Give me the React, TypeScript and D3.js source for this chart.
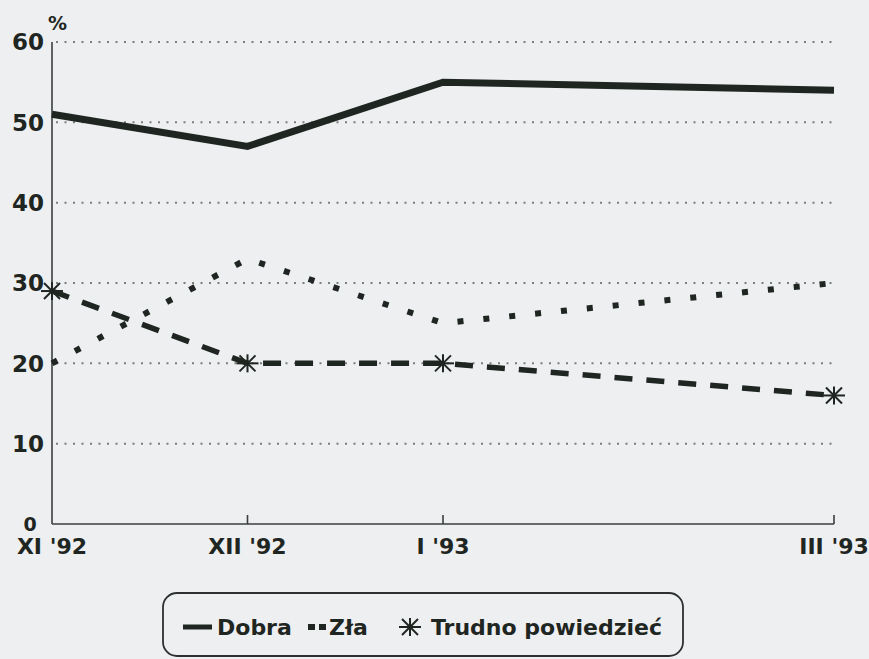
import React from "react";
import * as d3 from "d3";

const categories = ["XI '92", "XII '92", "I '93", "III '93"];
const monthIndex = [0, 1, 2, 4];
const dobra = [51, 47, 55, 54];
const zla = [20, 33, 25, 30];
const trudno = [29, 20, 20, 16];
const yTicks = [10, 20, 30, 40, 50, 60];
const legendLabels = ["Dobra", "Zła", "Trudno powiedzieć"];

const W = 869;
const H = 659;
const INK = "#1f2622";
const FONT = "'DejaVu Sans', sans-serif";

export default function App() {
  const x = d3.scaleLinear().domain([0, 4]).range([52, 834]);
  const y = d3.scaleLinear().domain([0, 60]).range([524, 42]);
  const line = d3
    .line<number>()
    .x((_, i) => x(monthIndex[i]))
    .y((d) => y(d));

  const asterisk = (cx: number, cy: number, k: string) => (
    <g key={k} stroke={INK} strokeWidth={2}>
      <line x1={cx - 11} y1={cy} x2={cx + 11} y2={cy} />
      <line x1={cx} y1={cy - 9} x2={cx} y2={cy + 9} />
      <line x1={cx - 8} y1={cy - 8} x2={cx + 8} y2={cy + 8} />
      <line x1={cx - 8} y1={cy + 8} x2={cx + 8} y2={cy - 8} />
    </g>
  );

  return (
    <svg
      width={W}
      height={H}
      style={{ position: "absolute", left: 0, top: 0, background: "#edeff0" }}
      fontFamily={FONT}
    >
      <rect x={0} y={0} width={W} height={H} fill="#edeff0" />
      {/* gridlines */}
      {yTicks.map((t) => (
        <line
          key={"g" + t}
          x1={x(0) + 4}
          x2={x(4)}
          y1={y(t)}
          y2={y(t)}
          stroke="#7a7f7c"
          strokeWidth={2}
          strokeDasharray="2 6.5"
        />
      ))}
      {/* axes */}
      <line x1={x(0)} x2={x(0)} y1={y(60)} y2={y(0)} stroke="#3a3f3c" strokeWidth={1.6} />
      <line x1={x(0)} x2={x(4)} y1={y(0)} y2={y(0)} stroke="#3a3f3c" strokeWidth={1.6} />
      {monthIndex.slice(1).map((m) => (
        <line key={"t" + m} x1={x(m)} x2={x(m)} y1={y(0)} y2={y(0) - 9} stroke="#3a3f3c" strokeWidth={1.6} />
      ))}
      {/* y labels */}
      {yTicks.map((t) => (
        <text
          key={"yl" + t}
          x={44}
          y={y(t)}
          dy="0.36em"
          textAnchor="end"
          fontSize={23}
          fontWeight="bold"
          fill={INK}
        >
          {t}
        </text>
      ))}
      <text x={30} y={y(0) + 7} textAnchor="middle" fontSize={19} fontWeight="bold" fill={INK}>
        0
      </text>
      <text x={48} y={30} fontSize={19} fontWeight="bold" fill={INK}>
        %
      </text>
      {/* x labels */}
      {categories.map((c, i) => (
        <text
          key={"xl" + c}
          x={x(monthIndex[i])}
          y={554}
          textAnchor="middle"
          fontSize={22}
          fontWeight="bold"
          fill={INK}
        >
          {c}
        </text>
      ))}
      {/* series */}
      <path d={line(dobra) || ""} fill="none" stroke={INK} strokeWidth={7} strokeLinejoin="miter" />
      <path d={line(zla) || ""} fill="none" stroke={INK} strokeWidth={6} strokeDasharray="6 20" />
      <path d={line(trudno) || ""} fill="none" stroke={INK} strokeWidth={5.5} strokeDasharray="18 14" />
      {trudno.map((v, i) => asterisk(x(monthIndex[i]), y(v), "a" + i))}
      {/* legend */}
      <rect x={163} y={593} width={520} height={63} rx={14} fill="none" stroke="#2c302e" strokeWidth={1.8} />
      <line x1={183} x2={212} y1={627} y2={627} stroke={INK} strokeWidth={5} />
      <text x={217} y={635} fontSize={22} fontWeight="bold" fill={INK}>
        {legendLabels[0]}
      </text>
      <line x1={308} x2={326} y1={627} y2={627} stroke={INK} strokeWidth={6} strokeDasharray="7 4" />
      <text x={329} y={635} fontSize={22} fontWeight="bold" fill={INK}>
        {legendLabels[1]}
      </text>
      {asterisk(410, 627, "la")}
      <text x={431} y={635} fontSize={22} fontWeight="bold" fill={INK}>
        {legendLabels[2]}
      </text>
    </svg>
  );
}
